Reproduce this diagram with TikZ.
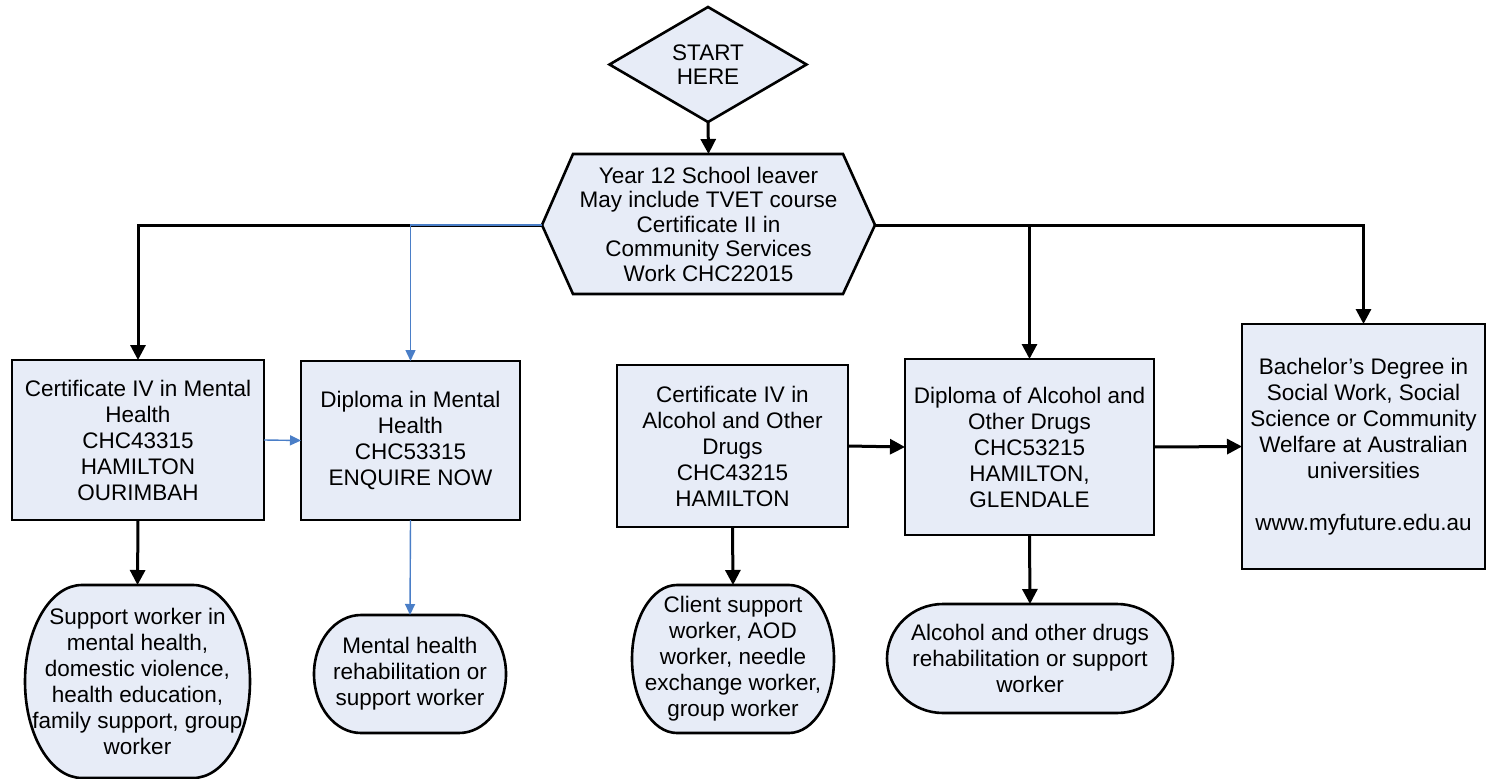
\documentclass[tikz,border=0pt]{standalone}
\usepackage{fontspec}
\setmainfont{Liberation Sans}
\usetikzlibrary{arrows.meta,shapes.geometric,backgrounds}
\definecolor{boxfill}{RGB}{231,236,247}
\definecolor{blueline}{RGB}{74,126,199}
\newcommand\termpath[3]{\path[outline] ([xshift=#2pt]#1.north west) -- ([xshift=-#2pt]#1.north east) arc[start angle=90,end angle=-90,x radius=#2pt,y radius=#3pt] -- ([xshift=#2pt]#1.south west) arc[start angle=270,end angle=90,x radius=#2pt,y radius=#3pt] -- cycle;}
\begin{document}
\begin{tikzpicture}[x=1pt,y=1pt,
  txt/.style={font=\fontsize{22.5}{26}\selectfont, align=center, inner sep=0pt, outer sep=0pt},
  tighttxt/.style={txt, font=\fontsize{22.5}{24.5}\selectfont},
  box/.style={txt, rectangle, draw=black, line width=2.6pt, fill=boxfill},
  outline/.style={draw=black, line width=2.6pt, fill=boxfill},
  conn/.style={line width=3pt, -{Triangle[length=15pt,width=15pt]}},
  bconn/.style={draw=blueline, line width=1.4pt, -{Triangle[length=11pt,width=10pt]}},
]
\useasboundingbox (0,0) rectangle (1486,-779);

% start and entry
\node[tighttxt, diamond, draw=black, line width=2.6pt, fill=boxfill, aspect=1.713,
      minimum width=197, minimum height=115] (start) at (708,-64.5) {START\\HERE};
\node[tighttxt, minimum width=333, minimum height=140] (hex) at (708.5,-224)
  {Year 12 School leaver\\May include TVET course\\Certificate II in\\Community Services\\Work CHC22015};

% course boxes
\node[box, minimum width=252, minimum height=160] (cmh) at (138,-440)
  {Certificate IV in Mental\\Health\\CHC43315\\HAMILTON\\OURIMBAH};
\node[box, minimum width=219, minimum height=159] (dmh) at (410.5,-440.5)
  {Diploma in Mental\\Health\\CHC53315\\ENQUIRE NOW};
\node[box, minimum width=231, minimum height=162] (caod) at (732.5,-446)
  {Certificate IV in\\Alcohol and Other\\Drugs\\CHC43215\\HAMILTON};
\node[box, minimum width=249, minimum height=176] (daod) at (1029.5,-447)
  {Diploma of Alcohol and\\Other Drugs\\CHC53215\\HAMILTON,\\GLENDALE};
\node[box, minimum width=243, minimum height=245] (bach) at (1363.5,-446.5)
  {Bachelor’s Degree in\\Social Work, Social\\Science or Community\\Welfare at Australian\\universities\\[26pt]www.myfuture.edu.au};

% outcomes
\node[txt, minimum width=225, minimum height=193] (sw) at (137.5,-681.5)
  {Support worker in\\mental health,\\domestic violence,\\health education,\\family support, group\\worker};
\node[txt, minimum width=192, minimum height=118] (mh) at (410,-674)
  {Mental health\\rehabilitation or\\support worker};
\node[txt, minimum width=202, minimum height=148] (client) at (733,-659)
  {Client support\\worker, AOD\\worker, needle\\exchange worker,\\group worker};
\node[txt, minimum width=286, minimum height=109] (alc) at (1030,-658.5)
  {Alcohol and other drugs\\rehabilitation or support\\worker};

\begin{scope}[on background layer]
\path[outline] ([yshift=-1pt]hex.west) -- ([xshift=31pt]hex.north west) -- ([xshift=-32pt]hex.north east)
  -- ([yshift=-1pt]hex.east) -- ([xshift=-32pt]hex.south east) -- ([xshift=31pt]hex.south west) -- cycle;
\termpath{sw}{57}{96.5}
\termpath{mh}{47}{59}
\termpath{client}{45}{74}
\termpath{alc}{56}{54.5}
\end{scope}

% connectors
\draw[conn] (start.south) -- (hex.north);
\draw[conn] ([yshift=-1pt]hex.west) -| (cmh.north);
\draw[bconn] ([yshift=-1pt]hex.west) -| (dmh.north);
\draw[conn] ([yshift=-1pt]hex.east) -| (daod.north);
\draw[conn] ([yshift=-1pt]hex.east) -| (bach.north);
\draw[bconn] (cmh.east) -- (dmh.west);
\draw[conn] (caod.east) -- (daod.west);
\draw[conn] (daod.east) -- (bach.west);
\draw[conn] (cmh.south) -- (sw.north);
\draw[bconn] (dmh.south) -- (mh.north);
\draw[conn] (caod.south) -- (client.north);
\draw[conn] (daod.south) -- (alc.north);
\end{tikzpicture}
\end{document}
